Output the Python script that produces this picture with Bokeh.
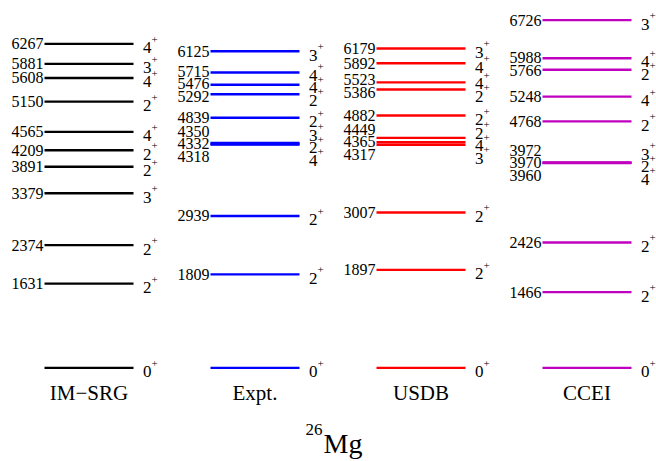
import numpy as np
from bokeh.plotting import figure
from bokeh.models import Range1d, ColumnDataSource
from bokeh.core.properties import value
from bokeh.embed import file_html
from bokeh.resources import INLINE

# ---------------- data ----------------
methods = ["IM\u2212SRG", "Expt.", "USDB", "CCEI"]
colors = ["#000000", "#0000ff", "#ff0000", "#bf00bf"]

imsrg_energy = [0, 1631, 2374, 3379, 3891, 4209, 4565, 5150, 5608, 5881, 6267]
imsrg_spin = ["0", "2", "2", "3", "2", "2", "4", "2", "4", "3", "4"]

expt_energy = [0, 1809, 2939, 4318, 4332, 4350, 4839, 5292, 5476, 5715, 6125]
expt_spin = ["0", "2", "2", "4", "2", "3", "2", "2", "4", "4", "3"]

usdb_energy = [0, 1897, 3007, 4317, 4365, 4449, 4882, 5386, 5523, 5892, 6179]
usdb_spin = ["0", "2", "2", "3", "4", "2", "2", "2", "4", "4", "3"]

ccei_energy = [0, 1466, 2426, 3960, 3970, 3972, 4768, 5248, 5766, 5988, 6726]
ccei_spin = ["0", "2", "2", "4", "2", "3", "2", "4", "2", "4", "3"]

parity = "+"
nucleus_mass = "26"
nucleus_symbol = "Mg"

energies = [imsrg_energy, expt_energy, usdb_energy, ccei_energy]
spins = [imsrg_spin, expt_spin, usdb_spin, ccei_spin]

# ---------------- layout ----------------
W, H = 656, 461
col_px = 166.0                 # pixels between columns
x0 = -88.5 / col_px
x_range = Range1d(x0, x0 + W / col_px)
kev_per_px = 1.0 / 0.0517
zero_px = 367.4                # distance of ground state from top
y_range = Range1d(-(H - zero_px) * kev_per_px, zero_px * kev_per_px)
half = 44.5 / col_px

FONT = value("Liberation Serif")


def spread(vals, gap, iters=2000):
    vals = np.asarray(vals, float)
    order = np.argsort(vals)
    y = vals[order].copy()
    for _ in range(iters):
        moved = False
        for i in range(len(y) - 1):
            d = y[i + 1] - y[i]
            if d < gap - 1e-6:
                s = (gap - d) / 2.0
                y[i] -= s
                y[i + 1] += s
                moved = True
        if not moved:
            break
    out = np.empty_like(y)
    out[order] = y
    return out


p = figure(width=W, height=H, x_range=x_range, y_range=y_range,
           output_backend="svg", toolbar_location=None,
           min_border=0, min_border_left=0, min_border_right=0,
           min_border_top=0, min_border_bottom=0)
p.xaxis.visible = False
p.yaxis.visible = False
p.grid.visible = False
p.outline_line_color = None
p.background_fill_color = "white"
p.border_fill_color = "white"

gap = 12.5 * kev_per_px
for i, (E, S, c) in enumerate(zip(energies, spins, colors)):
    E = np.asarray(E, float)
    n = len(E)
    src = ColumnDataSource(dict(x0=[i - half] * n, x1=[i + half] * n, y=E))
    p.segment(x0="x0", y0="y", x1="x1", y1="y", source=src,
              line_color=c, line_width=2.4)

    # energy labels (left)
    ey = spread(E, gap)
    etxt = [str(int(e)) for e in E[1:]]
    p.text(x=[i - half] * (n - 1), y=ey[1:], text=etxt, x_offset=-1,
           text_align="right", text_baseline="middle",
           text_font=FONT, text_font_size="16px", text_color="black")

    # spin labels (right)
    sy = spread(E - 4 * kev_per_px, gap)
    p.text(x=[i + half] * n, y=sy, text=S, x_offset=9.5,
           text_align="left", text_baseline="middle",
           text_font=FONT, text_font_size="17px", text_color="black")
    p.text(x=[i + half] * n, y=sy + 8.5 * kev_per_px, text=[parity] * n,
           x_offset=18, text_align="left", text_baseline="middle",
           text_font=FONT, text_font_size="11px", text_color="black")

    # column title
    p.text(x=[i], y=[-25 * kev_per_px], text=[methods[i]],
           text_align="center", text_baseline="middle",
           text_font=FONT, text_font_size="21px", text_color="black")

# nucleus label
mid = (len(methods) - 1) / 2.0
p.text(x=[mid], y=[-76 * kev_per_px], text=[nucleus_symbol], x_offset=-14.5,
       text_align="left", text_baseline="middle",
       text_font=FONT, text_font_size="28px", text_color="black")
p.text(x=[mid], y=[-62 * kev_per_px], text=[nucleus_mass], x_offset=-15.5,
       text_align="right", text_baseline="middle",
       text_font=FONT, text_font_size="17px", text_color="black")

open("out.html", "w").write(file_html(p, INLINE))
